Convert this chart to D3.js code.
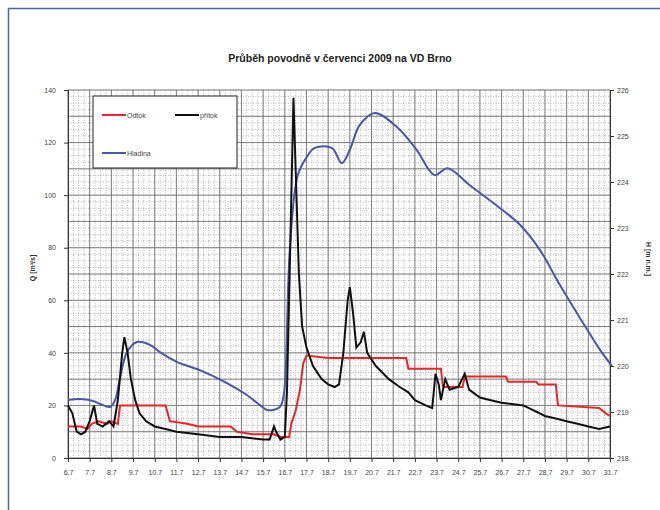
<!DOCTYPE html>
<html>
<head>
<meta charset="utf-8">
<script src="https://cdn.jsdelivr.net/npm/d3@7"></script>
<style>
  body { margin: 0; background: #fff; }
  text { font-family: "Liberation Sans", Arial, sans-serif; }
</style>
</head>
<body>
<svg id="chart" width="660" height="510"></svg>
<script>
// x ticks: day of July
const dayTicks = d3.range(6, 32);
const qTicks = [0, 20, 40, 60, 80, 100, 120, 140];
const hTicks = [218, 219, 220, 221, 222, 223, 224, 225, 226];

// Odtok [day, m3/s]
const odtok = [
    [6.0, 12], [6.6, 12], [6.9, 11], [7.1, 13], [7.4, 14], [7.8, 13], [8.0, 14], [8.3, 13],
    [8.4, 20], [9.0, 20], [10.5, 20], [10.7, 14], [11.5, 13], [12.0, 12], [13.5, 12],
    [13.8, 10], [14.5, 9], [15.5, 9], [15.8, 8], [16.2, 8], [16.3, 13], [16.5, 18],
    [16.7, 26], [16.85, 36], [17.0, 39], [18.0, 38], [19.0, 38], [21.0, 38], [21.6, 38],
    [21.7, 34], [23.2, 34], [23.3, 27], [24.2, 27], [24.3, 31], [26.2, 31], [26.3, 29],
    [27.6, 29], [27.7, 28], [28.5, 28], [28.6, 20], [30.5, 19], [30.8, 17], [31.0, 16]
];

// přítok [day, m3/s]
const pritok = [
    [6.0, 20], [6.2, 17], [6.4, 10], [6.6, 9], [6.8, 10], [7.0, 14], [7.2, 20], [7.35, 13],
    [7.6, 12], [7.9, 14], [8.1, 12], [8.3, 22], [8.5, 40], [8.6, 46], [8.75, 40], [8.9, 30],
    [9.1, 22], [9.3, 17], [9.6, 14], [10.0, 12], [10.5, 11], [11.0, 10], [12.0, 9], [13.0, 8],
    [14.0, 8], [15.0, 7], [15.3, 7], [15.5, 12], [15.6, 10], [15.8, 7], [16.0, 8], [16.1, 25],
    [16.25, 80], [16.4, 137], [16.5, 110], [16.65, 70], [16.8, 50], [17.0, 42], [17.3, 35],
    [17.7, 30], [18.0, 28], [18.3, 27], [18.5, 28], [18.7, 40], [18.9, 60], [19.0, 65],
    [19.15, 55], [19.3, 42], [19.5, 44], [19.65, 48], [19.8, 40], [20.2, 35], [20.8, 30],
    [21.3, 27], [21.7, 25], [22.0, 22], [22.5, 20], [22.8, 19], [22.95, 32], [23.1, 28],
    [23.2, 22], [23.4, 30], [23.6, 26], [24.0, 27], [24.3, 32], [24.5, 26], [25.0, 23],
    [25.5, 22], [26.0, 21], [27.0, 20], [27.5, 18], [28.0, 16], [28.5, 15], [29.0, 14],
    [29.5, 13], [30.0, 12], [30.5, 11], [31.0, 12]
];

// Hladina [day, m n.m.]
const hladina = [
    [6.0, 219.26], [6.55, 219.28], [7.15, 219.24], [7.61, 219.15], [7.94, 219.11],
    [8.17, 219.26], [8.4, 219.74], [8.72, 220.3], [9.18, 220.52], [9.78, 220.46],
    [10.24, 220.3], [11.02, 220.09], [12.08, 219.91], [13.33, 219.63], [14.25, 219.37],
    [14.85, 219.15], [15.22, 219.04], [15.77, 219.11], [15.95, 219.37], [16.23, 222.52],
    [16.6, 224.15], [17.01, 224.54], [17.38, 224.74], [18.17, 224.74], [18.63, 224.41],
    [19.0, 224.7], [19.46, 225.24], [20.15, 225.5], [21.16, 225.2], [22.08, 224.7],
    [22.91, 224.15], [23.51, 224.3], [24.53, 223.93], [25.93, 223.43], [26.85, 223.07],
    [27.77, 222.52], [28.69, 221.76], [29.62, 221.04], [30.54, 220.35], [31.09, 220.0]
];

const svg = d3.select("#chart");
const plotLeft = 68, plotRight = 610, plotTop = 90, plotBottom = 458;

// outer frame (only top/left visible)
svg.append("path")
    .attr("d", "M8.5,510 V8.5 H660")
    .attr("fill", "none")
    .attr("stroke", "#4a6a9a")
    .attr("stroke-width", 1.5);

const x = d3.scaleLinear().domain([6, 31]).range([plotLeft, plotRight]);
const yq = d3.scaleLinear().domain([0, 140]).range([plotBottom, plotTop]);
const yh = d3.scaleLinear().domain([218, 226]).range([plotBottom, plotTop]);

const grid = svg.append("g");

// minor grid
grid.selectAll(".vminor")
    .data(d3.range(6, 31.01, 0.25))
    .join("line")
    .attr("x1", d => x(d)).attr("x2", d => x(d))
    .attr("y1", plotTop).attr("y2", plotBottom)
    .attr("stroke", "#888").attr("stroke-width", 0.6)
    .attr("stroke-dasharray", "1,1.5");

grid.selectAll(".hminor")
    .data(d3.range(0, 140.01, 2.5))
    .join("line")
    .attr("x1", plotLeft).attr("x2", plotRight)
    .attr("y1", d => yq(d)).attr("y2", d => yq(d))
    .attr("stroke", "#888").attr("stroke-width", 0.6)
    .attr("stroke-dasharray", "1,1.5");

// major grid
grid.selectAll(".vmajor")
    .data(dayTicks)
    .join("line")
    .attr("x1", d => x(d)).attr("x2", d => x(d))
    .attr("y1", plotTop).attr("y2", plotBottom)
    .attr("stroke", "#666").attr("stroke-width", 0.8);

grid.selectAll(".hmajor")
    .data(d3.range(0, 140.01, 10))
    .join("line")
    .attr("x1", plotLeft).attr("x2", plotRight)
    .attr("y1", d => yq(d)).attr("y2", d => yq(d))
    .attr("stroke", "#666").attr("stroke-width", 0.8);

// axes
const xAxis = d3.axisBottom(x).tickValues(dayTicks).tickSize(4)
    .tickFormat(d => d + ".7");
const yAxis = d3.axisLeft(yq).tickValues(qTicks).tickSize(4).tickPadding(8);
const hAxis = d3.axisRight(yh).tickValues(hTicks).tickSize(4);

function styleAxis(g) {
    g.select(".domain").attr("stroke", "#333");
    g.selectAll(".tick line").attr("stroke", "#333");
    g.selectAll(".tick text")
        .attr("fill", "#444")
        .style("font-size", "7px");
}

svg.append("g").attr("transform", `translate(0,${plotBottom})`).call(xAxis).call(styleAxis)
    .selectAll(".tick text").attr("dy", "1.4em");
svg.append("g").attr("transform", `translate(${plotLeft},0)`).call(yAxis).call(styleAxis);
svg.append("g").attr("transform", `translate(${plotRight},0)`).call(hAxis).call(styleAxis);

// series
const lineQ = d3.line().x(d => x(d[0])).y(d => yq(d[1]));
const lineH = d3.line().x(d => x(d[0])).y(d => yh(d[1])).curve(d3.curveCatmullRom);

svg.append("path").datum(hladina)
    .attr("d", lineH).attr("fill", "none")
    .attr("stroke", "#4a56a8").attr("stroke-width", 2);

svg.append("path").datum(odtok)
    .attr("d", lineQ).attr("fill", "none")
    .attr("stroke", "#e8262b").attr("stroke-width", 2);

svg.append("path").datum(pritok)
    .attr("d", lineQ).attr("fill", "none")
    .attr("stroke", "#111").attr("stroke-width", 2);

// legend
const lg = svg.append("g");
lg.append("rect")
    .attr("x", 93).attr("y", 96).attr("width", 144).attr("height", 72)
    .attr("fill", "#fff").attr("stroke", "#222").attr("stroke-width", 1);

const legendItems = [
    { name: "Odtok", color: "#e8262b", lx: 102, ly: 115 },
    { name: "přítok", color: "#111", lx: 175, ly: 115 },
    { name: "Hladina", color: "#4a56a8", lx: 102, ly: 153 }
];
legendItems.forEach(it => {
    lg.append("line")
        .attr("x1", it.lx).attr("x2", it.lx + 24)
        .attr("y1", it.ly).attr("y2", it.ly)
        .attr("stroke", it.color).attr("stroke-width", 2);
    lg.append("text")
        .attr("x", it.lx + 25).attr("y", it.ly + 2.5)
        .attr("fill", "#444").style("font-size", "7px")
        .text(it.name);
});

// titles
svg.append("text")
    .attr("x", 340).attr("y", 62)
    .attr("text-anchor", "middle")
    .style("font-size", "10.5px").style("font-weight", "bold")
    .attr("fill", "#222")
    .text("Průběh povodně v červenci 2009 na VD Brno");

svg.append("text")
    .attr("transform", "translate(35,268) rotate(-90)")
    .attr("text-anchor", "middle")
    .style("font-size", "7px").style("font-weight", "bold")
    .attr("fill", "#333")
    .text("Q [m³/s]");

svg.append("text")
    .attr("transform", "translate(646,259) rotate(90)")
    .attr("text-anchor", "middle")
    .style("font-size", "7px").style("font-weight", "bold")
    .attr("fill", "#333")
    .text("H [m n.m.]");
</script>
</body>
</html>
